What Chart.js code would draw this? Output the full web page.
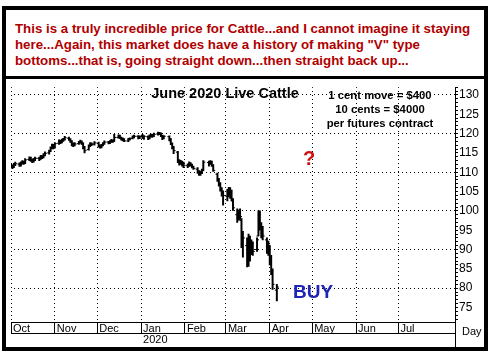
<!DOCTYPE html>
<html>
<head>
<meta charset="utf-8">
<script src="https://cdn.jsdelivr.net/npm/chart.js@4/dist/chart.umd.min.js"></script>
<style>
  body { margin: 0; background: #fff; width: 493px; height: 353px; position: relative; overflow: hidden; font-family: "Liberation Sans", Arial, sans-serif; }
  .frame { position: absolute; left: 2px; top: 6px; width: 478px; height: 337px; border: 4px solid #000; }
  .sep { position: absolute; left: 2px; top: 76px; width: 486px; height: 3px; background: #000; }
  #chart { position: absolute; left: 6px; top: 79px; }
  .txt { position: absolute; white-space: nowrap; }
  .note { left: 15px; top: 21px; line-height: 16px; font-size: 13.3px; font-weight: bold; color: #b00000; }
  .title { left: 125px; width: 200px; top: 84px; line-height: 18px; text-align: center; font-size: 14.5px; font-weight: bold; color: #000; }
  .spec { left: 320px; width: 120px; top: 88px; line-height: 14px; text-align: center; font-size: 11.3px; font-weight: bold; color: #000; }
  .ask { left: 299px; width: 20px; top: 146px; line-height: 24px; text-align: center; font-size: 20px; font-weight: bold; color: #cc1111; }
  .buy { left: 288px; width: 50px; top: 280px; line-height: 24px; text-align: center; font-size: 19px; font-weight: bold; color: #1f24b4; }
  .day { left: 462px; top: 324px; line-height: 14px; font-size: 11px; color: #000; }
</style>
</head>
<body>
<div class="frame"></div>
<div class="sep"></div>
<canvas id="chart" width="478" height="268"></canvas>
<div class="txt note">This is a truly incredible price for Cattle...and I cannot imagine it staying<br>here...Again, this market does have a history of making "V" type<br>bottoms...that is, going straight down...then straight back up...</div>
<div class="txt title">June 2020 Live Cattle</div>
<div class="txt spec">1 cent move = $400<br>10 cents = $4000<br>per futures contract</div>
<div class="txt ask">?</div>
<div class="txt buy">BUY</div>
<div class="txt day">Day</div>
<script>
// trading sessions, Oct 2019 - Apr 2020
const sessionDates = [
  '2019-10-01','2019-10-02','2019-10-03','2019-10-04','2019-10-07','2019-10-08','2019-10-09','2019-10-10','2019-10-11','2019-10-14','2019-10-15','2019-10-16','2019-10-17','2019-10-18','2019-10-21','2019-10-22','2019-10-23','2019-10-24','2019-10-25','2019-10-28','2019-10-29','2019-10-30','2019-10-31',
  '2019-11-01','2019-11-04','2019-11-05','2019-11-06','2019-11-07','2019-11-08','2019-11-11','2019-11-12','2019-11-13','2019-11-14','2019-11-15','2019-11-18','2019-11-19','2019-11-20','2019-11-21','2019-11-22','2019-11-25','2019-11-26','2019-11-27','2019-11-29',
  '2019-12-02','2019-12-03','2019-12-04','2019-12-05','2019-12-06','2019-12-09','2019-12-10','2019-12-11','2019-12-12','2019-12-13','2019-12-16','2019-12-17','2019-12-18','2019-12-19','2019-12-20','2019-12-23','2019-12-24','2019-12-26','2019-12-27','2019-12-30','2019-12-31',
  '2020-01-02','2020-01-03','2020-01-06','2020-01-07','2020-01-08','2020-01-09','2020-01-10','2020-01-13','2020-01-14','2020-01-15','2020-01-16','2020-01-17','2020-01-21','2020-01-22','2020-01-23','2020-01-24','2020-01-27','2020-01-28','2020-01-29','2020-01-30','2020-01-31',
  '2020-02-03','2020-02-04','2020-02-05','2020-02-06','2020-02-07','2020-02-10','2020-02-11','2020-02-12','2020-02-13','2020-02-14','2020-02-18','2020-02-19','2020-02-20','2020-02-21','2020-02-24','2020-02-25','2020-02-26','2020-02-27','2020-02-28',
  '2020-03-02','2020-03-03','2020-03-04','2020-03-05','2020-03-06','2020-03-09','2020-03-10','2020-03-11','2020-03-12','2020-03-13','2020-03-16','2020-03-17','2020-03-18','2020-03-19','2020-03-20','2020-03-23','2020-03-24','2020-03-25','2020-03-26','2020-03-27','2020-03-30','2020-03-31',
  '2020-04-01','2020-04-02','2020-04-03','2020-04-06'
];

const opens = [
  111.9,111.6,111.4,112.0,112.1,111.8,112.5,112.6,112.4,113.3,113.6,113.1,112.9,113.3,113.6,113.5,114.0,113.9,114.5,115.0,115.5,116.3,116.9,
  116.5,117.5,118.0,117.9,118.3,118.6,118.8,118.4,117.9,117.2,117.0,117.4,117.7,117.8,117.3,116.2,115.9,116.9,117.4,117.3,
  117.5,116.8,116.5,117.0,117.4,117.8,117.6,118.0,118.2,118.1,119.0,119.3,118.9,118.6,118.4,118.1,118.5,118.8,119.1,119.3,118.9,
  119.3,118.9,119.2,118.8,119.4,119.6,119.3,119.9,120.1,120.0,119.4,118.9,119.2,118.5,117.4,116.2,115.2,113.0,112.3,112.6,112.0,
  111.7,111.8,112.2,111.9,111.3,110.8,110.0,109.6,109.9,110.6,112.5,112.3,112.6,111.7,109.5,108.0,106.8,105.4,104.5,
  103.8,105.0,104.6,105.0,102.6,99.0,98.2,99.6,97.5,91.5,91.0,87.0,91.5,89.2,91.0,90.0,93.5,99.0,96.0,94.5,92.5,90.5,
  90.0,87.5,84.5,79.5
];
const highs = [
  112.3,111.9,112.3,112.6,112.4,112.7,113.0,112.9,113.5,114.0,113.9,113.4,113.6,113.9,113.9,114.4,114.3,114.8,115.3,115.7,116.6,117.3,117.2,
  117.7,118.4,118.3,118.6,118.8,119.3,119.1,118.7,118.2,117.6,117.7,118.0,118.3,118.1,117.6,116.7,117.1,117.7,117.6,117.9,
  117.8,117.1,117.2,117.7,118.1,118.0,118.2,118.5,118.4,119.8,119.7,119.6,119.1,118.9,118.7,118.8,118.9,119.4,119.6,119.5,119.4,
  119.8,119.5,119.4,119.7,119.9,119.8,120.1,120.4,120.3,120.2,119.6,119.5,119.4,118.7,117.6,116.7,115.4,113.3,113.1,112.9,112.6,
  112.2,112.7,112.5,112.1,111.6,111.2,110.4,110.3,110.8,113.0,112.9,113.0,112.9,112.0,109.8,108.4,107.3,106.0,105.2,
  105.6,106.1,106.0,105.4,103.2,100.5,100.2,100.5,98.0,94.7,93.0,94.0,93.5,92.5,92.0,93.0,100.0,100.0,97.0,96.0,93.0,92.2,
  91.0,88.5,85.0,81.0
];
const lows = [
  111.2,110.9,111.2,111.7,111.5,111.6,112.1,112.0,112.2,113.0,112.8,112.5,112.6,113.0,113.0,113.3,113.5,113.7,114.2,114.7,115.3,116.0,116.0,
  116.2,117.2,117.4,117.6,118.0,118.3,118.2,117.7,116.8,116.6,116.8,117.2,117.5,117.2,116.0,115.0,115.7,116.6,116.9,117.0,
  116.5,116.2,116.3,116.8,117.2,117.3,117.4,117.7,117.7,118.0,118.8,118.7,118.3,118.1,117.9,117.9,118.3,118.6,118.9,118.6,118.7,
  118.7,118.5,118.4,118.6,119.1,119.0,119.2,119.6,119.7,119.2,118.4,118.6,118.1,117.1,116.0,114.8,112.5,111.8,112.0,111.6,111.2,
  111.2,111.5,111.6,111.1,110.7,109.7,109.2,109.2,109.6,110.4,111.6,112.0,111.5,110.2,107.6,106.4,105.1,103.8,101.5,
  102.6,103.6,103.2,102.6,100.1,97.0,97.6,97.8,90.5,88.0,85.5,85.6,87.0,88.7,88.5,89.5,93.5,95.0,93.0,92.5,89.0,88.5,
  86.0,83.5,79.7,76.7
];
const closes = [
  111.6,111.3,112.0,112.2,111.8,112.4,112.7,112.3,113.2,113.7,113.1,112.8,113.3,113.6,113.4,114.1,113.8,114.5,114.9,115.4,116.3,116.9,116.4,
  117.4,118.1,117.8,118.3,118.5,118.9,118.5,118.0,117.2,116.9,117.3,117.6,117.9,117.5,116.3,115.6,116.8,117.4,117.2,117.6,
  116.8,116.5,116.9,117.4,117.8,117.6,117.9,118.2,118.0,119.0,119.4,118.9,118.6,118.4,118.1,118.5,118.7,119.1,119.3,118.9,119.2,
  119.0,119.3,118.7,119.4,119.6,119.3,119.8,120.1,120.0,119.5,118.8,119.3,118.6,117.4,116.3,115.6,113.0,112.2,112.6,112.0,111.8,
  111.8,112.3,111.9,111.4,111.0,110.0,109.6,109.8,110.4,112.6,112.4,112.7,111.8,110.5,108.0,106.8,105.5,104.8,104.0,
  105.0,104.5,105.2,103.0,100.8,98.0,99.5,98.5,91.0,93.0,86.5,92.0,89.0,91.5,89.5,92.5,99.0,96.0,94.0,93.5,90.5,91.0,
  87.0,84.5,81.0,80.3
];

const monthLabels = ['Oct', 'Nov', 'Dec', 'Jan', 'Feb', 'Mar', 'Apr', 'May', 'Jun', 'Jul'];
const monthStartDates = ['2019-10-01','2019-11-01','2019-12-01','2020-01-01','2020-02-01','2020-03-01','2020-04-01','2020-05-01','2020-06-01','2020-07-01'];
const yearLabel = '2020';
const yearStartDate = '2020-01-01';
const axisEndDate = '2020-08-10';
const priceLabels = [75, 80, 85, 90, 95, 100, 105, 110, 115, 120, 125, 130];
const priceMin = 71.25;
const priceMax = 132;

// calendar days since the first session
const origin = Date.parse(sessionDates[0]);
const toDay = s => (Date.parse(s) - origin) / 864e5;

const xs = sessionDates.map(toDay);
const monthStarts = monthStartDates.map(toDay);

const rangeBars = xs.map((x, i) => ({x: x, y: [lows[i], highs[i]]}));
const closeTicks = xs.map((x, i) => ({x: x, y: closes[i]}));
const openTicks = xs.map((x, i) => ({x: x, y: opens[i]}));

const font11 = {family: '"Liberation Sans", Arial, sans-serif', size: 11};

const canvas = document.getElementById('chart');

// dotted grid: 1px dots every 4px, as a stroke pattern
function dots(w, h) {
  let tile = document.createElement('canvas');
  tile.width = w;
  tile.height = h;
  let g = tile.getContext('2d');
  g.fillStyle = '#000';
  g.fillRect(0, 0, 1, 1);
  return canvas.getContext('2d').createPattern(tile, 'repeat');
}
const dotsDown = dots(1, 4);
const dotsAcross = dots(4, 1);

// carry the price axis line down through the date rows
const axisTail = {
  id: 'axisTail',
  afterDraw(chart) {
    let ctx = chart.ctx;
    let x = Math.round(chart.chartArea.right) + 0.5;
    ctx.save();
    ctx.strokeStyle = '#000';
    ctx.lineWidth = 1;
    ctx.beginPath();
    ctx.moveTo(x, chart.chartArea.bottom);
    ctx.lineTo(x, chart.height);
    ctx.stroke();
    ctx.restore();
  }
};

new Chart(canvas, {
  type: 'bar',
  data: {
    datasets: [{
      type: 'bar',
      data: rangeBars,
      backgroundColor: '#000',
      borderWidth: 0,
      barThickness: 1.3
    }, {
      type: 'scatter',
      data: closeTicks,
      pointStyle: 'dash',
      rotation: 0,
      radius: 2,
      borderColor: '#000',
      borderWidth: 1
    }, {
      type: 'scatter',
      data: openTicks,
      pointStyle: 'dash',
      rotation: 180,
      radius: 2,
      borderColor: '#000',
      borderWidth: 1
    }]
  },
  options: {
    responsive: false,
    animation: false,
    events: [],
    layout: {padding: {left: 1, top: 0, right: 0, bottom: 0}},
    plugins: {legend: {display: false}, tooltip: {enabled: false}},
    scales: {
      x: {
        type: 'linear',
        position: 'bottom',
        weight: 0,
        min: 0,
        max: toDay(axisEndDate),
        offset: false,
        afterBuildTicks: s => { s.ticks = monthStarts.map(v => ({value: v})); },
        afterFit: s => { s.height = 11; },
        grid: {
          offset: false,
          color: dotsDown,
          lineWidth: 1,
          tickLength: 11,
          tickColor: '#000',
          tickBorderDash: []
        },
        border: {color: '#000', width: 1},
        ticks: {
          autoSkip: false,
          maxRotation: 0,
          align: 'start',
          labelOffset: 2,
          padding: -11,
          color: '#000',
          font: font11,
          callback: (v, i) => monthLabels[i]
        }
      },
      x2: {
        type: 'linear',
        axis: 'x',
        position: 'bottom',
        weight: 1,
        min: 0,
        max: toDay(axisEndDate),
        offset: false,
        afterBuildTicks: s => { s.ticks = [{value: toDay(yearStartDate)}]; },
        afterFit: s => { s.height = 14; },
        grid: {drawOnChartArea: false, color: '#000', tickLength: 14, tickColor: '#000', tickBorderDash: []},
        border: {color: '#000', width: 1},
        ticks: {
          autoSkip: false,
          maxRotation: 0,
          align: 'start',
          labelOffset: 2,
          padding: -14,
          color: '#000',
          font: font11,
          callback: () => yearLabel
        }
      },
      y: {
        type: 'linear',
        position: 'right',
        min: priceMin,
        max: priceMax,
        afterFit: s => { s.width = 29; },
        grid: {
          color: c => (c.tick && c.tick.value % 10 === 0) ? dotsAcross : 'rgba(0,0,0,0)',
          lineWidth: 1,
          tickLength: 3,
          tickColor: '#000',
          tickBorderDash: []
        },
        border: {color: '#000', width: 1},
        ticks: {
          stepSize: 1,
          maxTicksLimit: 100,
          includeBounds: false,
          autoSkip: false,
          padding: 1,
          color: '#000',
          font: {family: '"Liberation Sans", Arial, sans-serif', size: 12},
          callback: v => priceLabels.includes(v) ? String(v) : ''
        }
      }
    }
  },
  plugins: [axisTail]
});
</script>
</body>
</html>
